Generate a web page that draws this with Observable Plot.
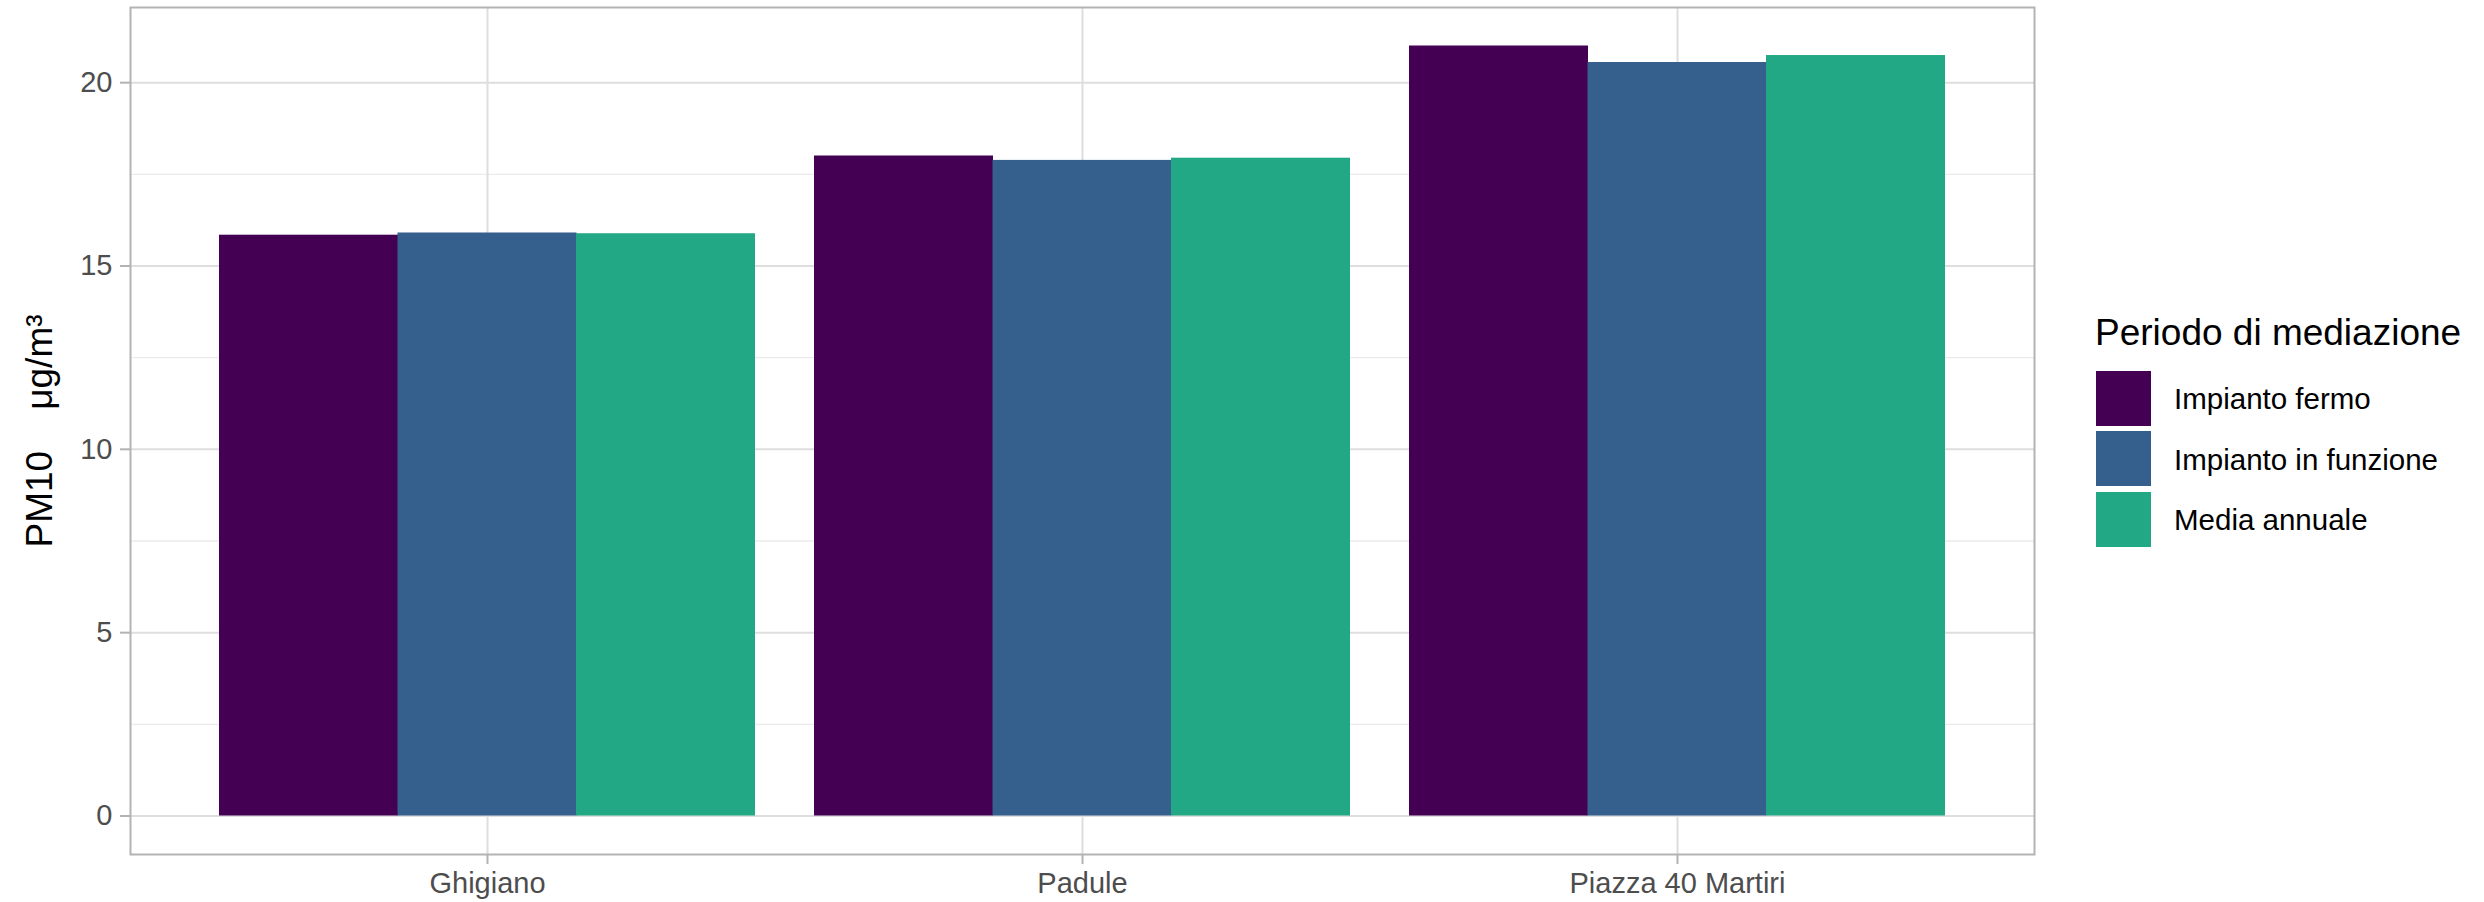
<!DOCTYPE html>
<html>
<head>
<meta charset="utf-8">
<script src="https://cdn.jsdelivr.net/npm/d3@7"></script>
<script src="https://cdn.jsdelivr.net/npm/@observablehq/plot@0.6"></script>
<style>
  html, body { margin: 0; padding: 0; background: #fff; }
  #wrap { position: relative; width: 2484px; height: 902px; font-family: "Liberation Sans", Arial, sans-serif; }
  #legend { position: absolute; left: 2095px; top: 314px; }
  #legend .title { font-size: 37px; line-height: 37px; color: #000; white-space: nowrap; }
  #legend .row { display: flex; align-items: center; height: 60.5px; }
  #legend .key { width: 55px; height: 55px; margin-right: 23px; }
  #legend .lab { font-size: 29.5px; color: #000; white-space: nowrap; position: relative; top: 1px; }
  #legend .items { margin-top: 17px; margin-left: 1px; }
</style>
</head>
<body>
<div id="wrap"><div id="chart"></div><div id="legend"></div></div>
<script>
const categories = ["Ghigiano", "Padule", "Piazza 40 Martiri"];
const series = ["Impianto fermo", "Impianto in funzione", "Media annuale"];
const impiantoFermo = [15.84, 18.00, 21.00];
const impiantoInFunzione = [15.90, 17.88, 20.55];
const mediaAnnuale = [15.88, 17.94, 20.74];
const colors = ["#440154", "#355F8D", "#22A884"];
const yTicks = [0, 5, 10, 15, 20];
const yMinor = [2.5, 7.5, 12.5, 17.5];
const legendTitle = "Periodo di mediazione";
const yLabel = "PM10\u00A0\u00A0\u00A0\u00A0\u03BCg/m\u00B3";

const valuesBySeries = [impiantoFermo, impiantoInFunzione, mediaAnnuale];
const table = [];
series.forEach((s, i) => categories.forEach((c, j) => table.push({site: c, period: s, value: valuesBySeries[i][j]})));

const W = 2484, H = 902, mL = 130, mR = 450, mT = 7, mB = 48;
const pInner = 0.1, pOuter = 0.15;
const step = (W - mL - mR) / (categories.length - pInner + 2 * pOuter);
const third = step * (1 - pInner) / series.length;

const barMarks = series.map((s, i) => Plot.barY(table, {
  filter: d => d.period === s,
  x: "site", y: "value", fill: "period",
  insetLeft: i * third, insetRight: (series.length - 1 - i) * third
}));

const chart = Plot.plot({
  width: W, height: H,
  marginLeft: mL, marginRight: mR, marginTop: mT, marginBottom: mB,
  style: {fontFamily: "Liberation Sans, Arial, sans-serif", fontSize: "29px", background: "#fff"},
  x: {type: "band", domain: categories, paddingInner: pInner, paddingOuter: pOuter, align: 0.5, label: null},
  y: {domain: [-1.05, 22.05], label: null},
  color: {domain: series, range: colors},
  marks: [
    Plot.gridY(yMinor, {stroke: "#EBEBEB", strokeOpacity: 1, strokeWidth: 1.3}),
    Plot.gridY(yTicks, {stroke: "#DEDEDE", strokeOpacity: 1, strokeWidth: 2}),
    Plot.gridX({stroke: "#DEDEDE", strokeOpacity: 1, strokeWidth: 2}),
    ...barMarks,
    Plot.axisY(yTicks, {tickSize: 10, tickPadding: 8, stroke: "#B3B3B3", strokeWidth: 2, fill: "#4D4D4D", fontSize: 29, label: null}),
    Plot.axisX({tickSize: 10, tickPadding: 8, stroke: "#B3B3B3", strokeWidth: 2, fill: "#4D4D4D", fontSize: 29, label: null}),
    Plot.text([yLabel], {text: d => d, frameAnchor: "left", textAnchor: "middle", rotate: -90, dx: -90, fontSize: 37, fill: "#000"}),
    Plot.frame({stroke: "#B3B3B3", strokeWidth: 2})
  ]
});
document.getElementById("chart").appendChild(chart);

const legend = document.getElementById("legend");
const t = document.createElement("div");
t.className = "title"; t.textContent = legendTitle;
legend.appendChild(t);
const items = document.createElement("div");
items.className = "items";
series.forEach((s, i) => {
  const row = document.createElement("div"); row.className = "row";
  const k = document.createElement("div"); k.className = "key"; k.style.background = colors[i];
  const l = document.createElement("div"); l.className = "lab"; l.textContent = s;
  row.appendChild(k); row.appendChild(l); items.appendChild(row);
});
legend.appendChild(items);
</script>
</body>
</html>
